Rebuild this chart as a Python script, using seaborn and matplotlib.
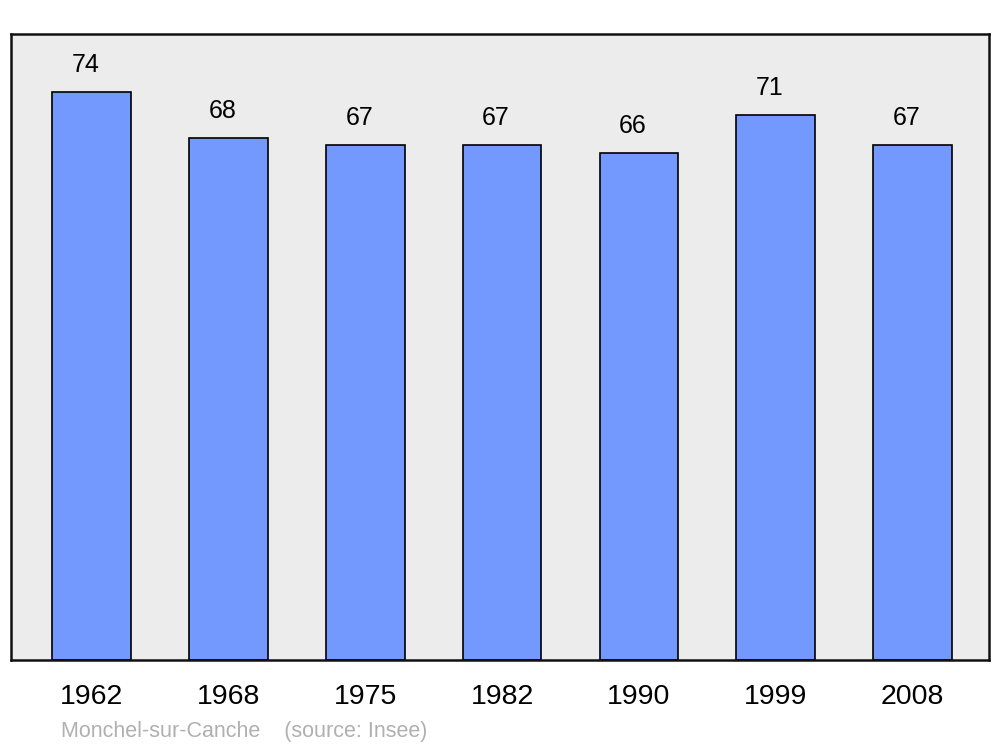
import pandas as pd
import matplotlib
matplotlib.use("Agg")
import matplotlib.pyplot as plt
import seaborn as sns

years = ["1962", "1968", "1975", "1982", "1990", "1999", "2008"]
population = [74, 68, 67, 67, 66, 71, 67]
town = "Monchel-sur-Canche"
source = "(source: Insee)"

sns.set_theme(style="white")
plt.rcParams["font.family"] = ["Liberation Sans", "DejaVu Sans"]

df = pd.DataFrame({"year": years, "population": population})

fig = plt.figure(figsize=(10, 7.47), dpi=100)
ax = fig.add_axes([0.011, 0.1165, 0.978, 0.838])
ax.set_facecolor("#ececec")

sns.barplot(data=df, x="year", y="population", color="#7399ff", saturation=1,
            edgecolor="black", linewidth=1.2, width=0.575, ax=ax)

# value labels, a bit left of the bar centre like the original
for i, v in enumerate(population):
    ax.annotate(str(v), xy=(i, v), xytext=(-4.3, 19.5), textcoords="offset points",
                ha="center", va="center", fontsize=18, color="black")

ax.set_xlim(-0.59, 6.56)
ax.set_ylim(0, 81.5)
ax.set_yticks([])
ax.set_xlabel("")
ax.set_ylabel("")
ax.tick_params(axis="x", length=0, pad=17, labelsize=20.5, colors="black")
for s in ax.spines.values():
    s.set_visible(True)
    s.set_color("#111111")
    s.set_linewidth(1.8)

fig.text(0.061, 0.021, town + "    " + source, fontsize=15.5, color="#b0b0b0",
         va="center", ha="left")

fig.savefig("out.png", dpi=100, facecolor="white")
